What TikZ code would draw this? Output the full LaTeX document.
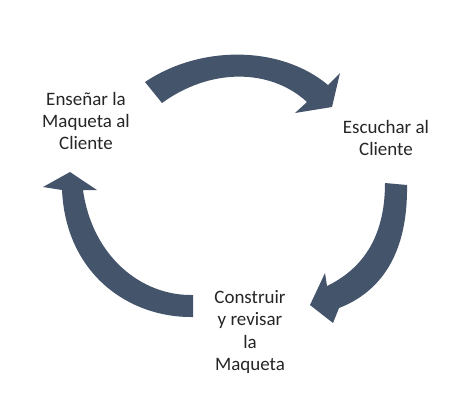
\documentclass[tikz,border=0pt]{standalone}
\usepackage{fontspec}
\setmainfont{Carlito}
\definecolor{pizarra}{RGB}{68,84,106}
\tikzset{%
  arco/.style={fill=pizarra, draw=none},
  paso/.style={align=center, inner sep=0pt, text=black!85,
    font=\fontsize{10.8}{12.6}\selectfont}
}

\begin{document}
\begin{tikzpicture}[x=0.02cm, y=-0.02cm]
  \useasboundingbox [fill=white] (0,0) rectangle (475,406);

% flecha de arriba
\fill [arco] (145,82) .. controls (200,45) and (280,45) .. (328,85)
  -- (340,73) -- (332,107) -- (295,113) -- (307,102)
  .. controls (270,68) and (210,68) .. (162,103) -- cycle;

% flecha de la derecha
\fill [arco] (385,183) -- (407,185) .. controls (408,255) and (380,292) .. (339,308)
  -- (333,323) -- (310,305) -- (325,273) -- (327,286)
  .. controls (360,270) and (385,240) .. (385,183) -- cycle;

% flecha de la izquierda
\fill [arco] (193,317) .. controls (130,318) and (66,275) .. (62,190)
  -- (43,187) -- (70,172) -- (97,190) -- (83,190)
  .. controls (92,255) and (140,296) .. (193,295) -- cycle;

\node [paso] (ensenar) at (86,121) {Enseñar la\\Maqueta al\\Cliente};
\node [paso] (escuchar) at (386,138) {Escuchar al\\Cliente};
\node [paso] (construir) at (250,332) {Construir\\y revisar\\la\\Maqueta};
\end{tikzpicture}
\end{document}
